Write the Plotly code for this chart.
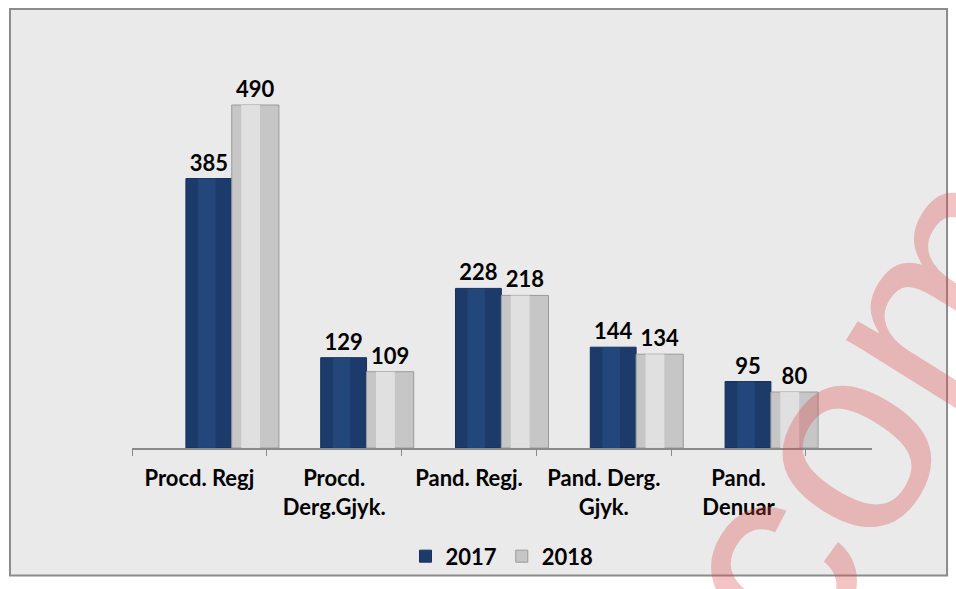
import plotly.graph_objects as go

categories = ["Procd. Regj", "Procd.<br>Derg.Gjyk.", "Pand. Regj.", "Pand. Derg.<br>Gjyk.", "Pand.<br>Denuar"]
values_2017 = [385, 129, 228, 144, 95]
values_2018 = [490, 109, 218, 134, 80]
series_names = ["2017", "2018"]

FONT = "Lato"
BLUE = "#1c3b6b"
BLUE_HI = "#264a80"
GRAY = "#c6c6c6"
GRAY_HI = "#e2e2e2"

fig = go.Figure()
fig.add_trace(go.Bar(
    x=categories, y=values_2017, name=series_names[0],
    width=0.34, offset=-0.10,
    marker=dict(color=BLUE, line=dict(color="#15305a", width=1)),
    text=values_2017, textposition="outside", cliponaxis=False,
    textfont=dict(family=FONT, size=22, color="black", weight="bold"),
    hoverinfo="x+y",
))
fig.add_trace(go.Bar(
    x=categories, y=values_2018, name=series_names[1],
    width=0.35, offset=0.24,
    marker=dict(color=GRAY, line=dict(color="#9a9a9a", width=1)),
    text=values_2018, textposition="outside", cliponaxis=False,
    textfont=dict(family=FONT, size=22, color="black", weight="bold"),
    hoverinfo="x+y",
))
# cylinder highlights
fig.add_trace(go.Bar(
    x=categories, y=values_2017, showlegend=False, hoverinfo="skip",
    width=0.13, offset=-0.01,
    marker=dict(color=BLUE_HI, line=dict(width=0), opacity=0.8),
))
fig.add_trace(go.Bar(
    x=categories, y=values_2018, showlegend=False, hoverinfo="skip",
    width=0.14, offset=0.31,
    marker=dict(color=GRAY_HI, line=dict(width=0), opacity=0.9),
))

# frame box
fig.add_shape(type="rect", xref="paper", yref="paper",
              x0=-0.1649, x1=1.1014, y0=-0.3033, y1=1.045,
              fillcolor="#eaeaea", line=dict(color="#8c8c8c", width=2), layer="below")

# watermark
fig.add_annotation(text="com", xref="paper", yref="paper", x=0.986, y=0.097,
                   xanchor="center", yanchor="middle",
                   showarrow=False, textangle=-58,
                   font=dict(family="Liberation Sans", size=270, color="rgba(220,70,70,0.32)"))

fig.update_layout(
    width=956, height=589,
    margin=dict(l=132, r=84, t=28, b=139),
    paper_bgcolor="white", plot_bgcolor="rgba(0,0,0,0)",
    barmode="overlay",
    showlegend=True,
    legend=dict(orientation="h", x=0.5, xanchor="center", y=-0.258, yanchor="middle",
                font=dict(family=FONT, size=22, color="black", weight="bold"),
                bgcolor="rgba(0,0,0,0)", itemwidth=30),
    xaxis=dict(type="category", range=[-0.5, 4.99], showgrid=False,
               showline=True, linecolor="#8a8a8a", linewidth=2,
               ticks="outside", tickson="boundaries", ticklen=6, tickcolor="#8a8a8a",
               ticklabelstandoff=10,
               tickfont=dict(family=FONT, size=22, color="black", weight="bold")),
    yaxis=dict(range=[0, 600], showgrid=False, showticklabels=False, zeroline=False, showline=False),
)

fig.write_html("out.html", config={"displayModeBar": False},
               post_script="document.body.style.margin='0';")
